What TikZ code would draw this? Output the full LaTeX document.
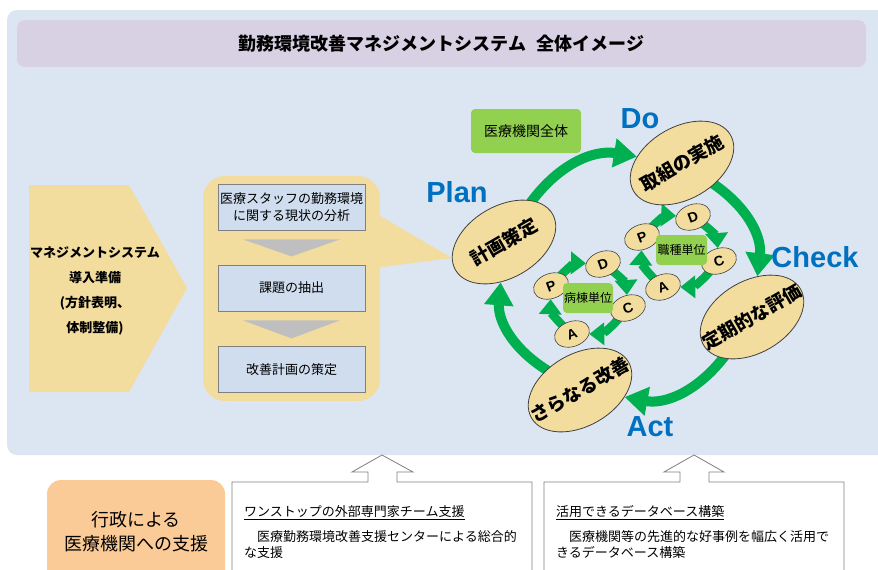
\documentclass[tikz,border=0pt]{standalone}
\usepackage{fontspec}
\setmainfont{Noto Sans CJK JP}
\newfontfamily\lat{Liberation Sans}
\usetikzlibrary{shapes.geometric,arrows.meta,calc}
\pgfdeclarelayer{back}
\pgfsetlayers{back,main}
\definecolor{panel}{RGB}{220,230,242}
\definecolor{lav}{RGB}{216,209,228}
\definecolor{tanc}{RGB}{242,220,158}
\definecolor{stepblue}{RGB}{207,221,238}
\definecolor{grayb}{RGB}{128,128,128}
\definecolor{grayt}{RGB}{191,191,191}
\definecolor{garrow}{RGB}{0,176,80}
\definecolor{lgreen}{RGB}{146,208,80}
\definecolor{pblue}{RGB}{0,112,192}
\definecolor{orangec}{RGB}{251,203,151}
\newcommand\zw[1]{\makebox[0pt][c]{#1}}
\tikzset{
 stepbox/.style={draw=grayb, fill=stepblue, line width=0.8pt, minimum width=147pt, minimum height=46pt, inner sep=0pt, align=center, font=\fontsize{13}{17}\selectfont},
 bigell/.style={ellipse, draw=black!75, fill=tanc, line width=0.8pt, minimum width=112pt, minimum height=72pt, inner sep=0pt, rotate=30, font=\fontsize{18.5}{20}\selectfont\bfseries},
 smell/.style={ellipse, draw=black!75, fill=tanc, line width=0.6pt, minimum width=36pt, minimum height=25pt, inner sep=0pt, rotate=20, font=\lat\fontsize{14}{16}\selectfont\bfseries},
 bigarr/.style={draw=garrow, line width=10pt, shorten <=-6pt, -{Triangle[width=28pt,length=23pt]}},
 smarr/.style={draw=garrow, line width=8.5pt, shorten <=-9pt, -{Triangle[width=22pt,length=15pt]}},
 pdca/.style={text=pblue, font=\lat\fontsize{29}{32}\selectfont\bfseries, inner sep=0pt},
 glabel/.style={fill=lgreen, rounded corners=4pt, inner sep=0pt},
 ubox/.style={draw=grayb, fill=white, line width=0.8pt},
 btxt/.style={anchor=west, align=left, inner sep=0pt, font=\fontsize{13}{16}\selectfont},
}
\begin{document}
\begin{tikzpicture}[x=1pt,y=-1pt]
\useasboundingbox (0,0) rectangle (878,570);
\begin{pgfonlayer}{back}
\fill[white] (0,0) rectangle (878,570);
\fill[panel, rounded corners=10pt] (7,10) rectangle (895,455);
\end{pgfonlayer}
\node[fill=lav, rounded corners=8pt, minimum width=849pt, minimum height=47pt, inner sep=0pt,
      font=\fontsize{18}{20}\selectfont\bfseries] (title) at (441.5,43.5) {勤務環境改善マネジメントシステム\hspace{0.6em}全体イメージ};
% left pentagon arrow
\fill[tanc] (29,185) -- (129,185) -- (187,288) -- (129,392) -- (29,392) -- cycle;
\node[align=center, font=\fontsize{13}{25}\selectfont\bfseries] (prep) at (95,290.5) {マネジメントシステム\\導入準備\\(方針表明、\\体制整備)};
% middle panel with callout
\fill[tanc] (375,213) -- (452,258) -- (375,268) -- cycle;
\fill[tanc, rounded corners=22pt] (203,176) rectangle (380,401);
\node[stepbox] (s1) at (291.5,207) {医療スタッフの勤務環境\\に関する現状の分析};
\node[stepbox] (s2) at (291.5,288) {課題の抽出};
\node[stepbox] (s3) at (291.5,369.5) {改善計画の策定};
\fill[grayt] ($(s1.south)+(-48.5,9)$) -- ($(s1.south)+(48.5,9)$) -- ($(s1.south)+(0,26)$) -- cycle;
\fill[grayt] ($(s2.south)+(-48.5,9)$) -- ($(s2.south)+(48.5,9)$) -- ($(s2.south)+(0,27)$) -- cycle;
% whole-organisation label
\node[glabel, minimum width=110pt, minimum height=44pt, font=\fontsize{14}{16}\selectfont] (whole) at (526,131) {医療機関全体};
% big PDCA
\node[bigell] (plan) at (504,242) {\zw{計画策定}};
\node[bigell] (do) at (682,163) {\zw{取組の実施}};
\node[bigell] (check) at (752,317) {\zw{定期的な評価}};
\node[bigell] (act) at (580,390) {\zw{さらなる改善}};
\begin{pgfonlayer}{back}
\draw[bigarr] (plan) to[bend left=32] (do);
\draw[bigarr] (do) to[bend left=32] (check);
\draw[bigarr] (check) to[bend left=32] (act);
\draw[bigarr] (act) to[bend left=32] (plan);
\end{pgfonlayer}
\node[pdca] (lplan) at (457,192) {Plan};
\node[pdca] (ldo) at (640,119) {Do};
\node[pdca] (lcheck) at (815,257) {Check};
\node[pdca] (lact) at (650,427) {Act};
% small cycle 1
\node[smell] (p1) at (551,286) {P};
\node[smell] (d1) at (603,264) {D};
\node[smell] (c1) at (628,308) {C};
\node[smell] (a1) at (572,334) {A};
\node[glabel, minimum width=50pt, minimum height=30pt, font=\fontsize{12}{14}\selectfont] (u1) at (588,298) {病棟単位};
% small cycle 2
\node[smell] (p2) at (642,237) {P};
\node[smell] (d2) at (693,217) {D};
\node[smell] (c2) at (719,261) {C};
\node[smell] (a2) at (663,287) {A};
\node[glabel, minimum width=51pt, minimum height=30pt, font=\fontsize{12}{14}\selectfont] (u2) at (681.5,250) {職種単位};
\begin{pgfonlayer}{back}
\draw[smarr] (p1) to[bend left=25] (d1);
\draw[smarr] (d1) to[bend left=25] (c1);
\draw[smarr] (c1) to[bend left=25] (a1);
\draw[smarr] (a1) to[bend left=25] (p1);
\draw[smarr] (p2) to[bend left=25] (d2);
\draw[smarr] (d2) to[bend left=25] (c2);
\draw[smarr] (c2) to[bend left=25] (a2);
\draw[smarr] (a2) to[bend left=25] (p2);
\end{pgfonlayer}
% bottom
\node[fill=orangec, rounded corners=14pt, minimum width=178pt, minimum height=104pt, inner sep=0pt, align=center,
      font=\fontsize{18}{24}\selectfont] (gov) at (136,532) {行政による\\医療機関への支援};
\draw[ubox] (232,580) -- (232,482) -- (368,482) -- (368,472) -- (352,472) -- (382,455) -- (413,472) -- (397,472) -- (397,482) -- (532,482) -- (532,580);
\draw[ubox] (544,580) -- (544,482) -- (680,482) -- (680,472) -- (664,472) -- (694,455) -- (724,472) -- (709,472) -- (709,482) -- (844,482) -- (844,580);
\node[btxt] (t1) at (244,513) {\underline{ワンストップの外部専門家チーム支援}};
\node[btxt] (b1) at (244,545) {　医療勤務環境改善支援センターによる総合的\\な支援};
\node[btxt] (t2) at (556,513) {\underline{活用できるデータベース構築}};
\node[btxt] (b2) at (556,545) {　医療機関等の先進的な好事例を幅広く活用で\\きるデータベース構築};
\end{tikzpicture}
\end{document}
